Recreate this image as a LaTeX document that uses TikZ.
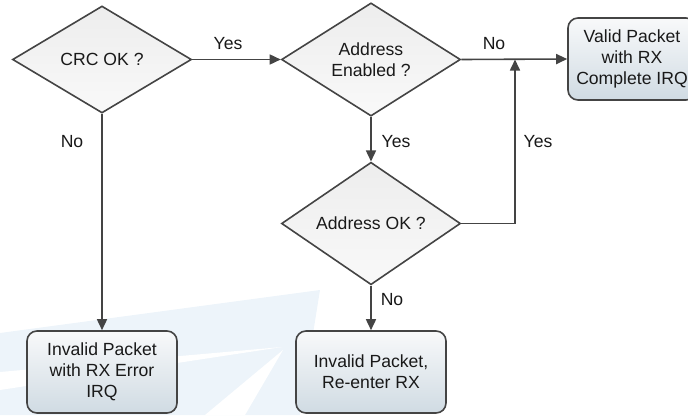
\documentclass[tikz,border=0pt]{standalone}
\usepackage{fontspec}
\setmainfont{Liberation Sans}
\usetikzlibrary{shapes.geometric,arrows.meta}
\definecolor{linec}{RGB}{68,68,68}
\definecolor{txtc}{RGB}{25,25,25}
\definecolor{wm}{RGB}{237,244,250}
\definecolor{boxbot}{RGB}{208,219,227}
\definecolor{boxtop}{RGB}{248,249,250}
\definecolor{diatop}{RGB}{237,237,237}
\definecolor{diabot}{RGB}{249,249,249}
\begin{document}
\begin{tikzpicture}[x=1pt,y=-1pt,
  font=\fontsize{17.6}{21}\selectfont,
  dia/.style={diamond, draw=linec, line width=1.6pt, top color=diatop, bottom color=diabot,
    minimum width=179pt, minimum height=107pt, inner sep=0pt, align=center, text=txtc},
  rbox/.style={rectangle, rounded corners=10pt, draw=linec, line width=1.6pt,
    top color=boxtop, bottom color=boxbot, minimum height=82pt, inner sep=0pt,
    align=center, text=txtc},
  conn/.style={draw=linec, line width=1.6pt, -{Triangle[length=11pt,width=10pt]}},
  lbl/.style={text=txtc, inner sep=0pt}]
\useasboundingbox (0,0) rectangle (688,415);
% faint watermark
\fill[wm] (0,333) -- (320,290) -- (300,415) -- (0,415) -- cycle;
\fill[white] (0,372) -- (282,347) -- (0,390) -- cycle;
\fill[white] (205,415) -- (283,350) -- (245,415) -- cycle;
% nodes
\node[dia] (crc) at (102,59.5) {CRC OK ?};
\node[dia] (aen) at (371,59.5) {Address\\Enabled ?};
\node[dia] (aok) at (371,223.5) {Address OK ?};
\node[rbox, minimum width=128pt] (valid) at (632,59) {Valid Packet\\with RX\\Complete IRQ};
\node[rbox, minimum width=150pt] (err) at (102,372) {Invalid Packet\\with RX Error\\IRQ};
\node[rbox, minimum width=150pt] (reent) at (371,372) {Invalid Packet,\\Re-enter RX};
\coordinate (j) at (515,59.5);
% connectors
\draw[conn] (crc.east) -- (aen.west);
\draw[conn] (aen.east) -- (valid.west);
\draw[conn] (crc.south) -- (err.north);
\draw[conn] (aen.south) -- (aok.north);
\draw[conn] (aok.south) -- (reent.north);
\draw[conn] (aok.east) -| (j);
% labels
\node[lbl] (l1) at (228,44) {Yes};
\node[lbl] (l2) at (494,44) {No};
\node[lbl] (l3) at (72,142) {No};
\node[lbl] (l4) at (396,142) {Yes};
\node[lbl] (l5) at (538,142) {Yes};
\node[lbl] (l6) at (392,300) {No};
\end{tikzpicture}
\end{document}
